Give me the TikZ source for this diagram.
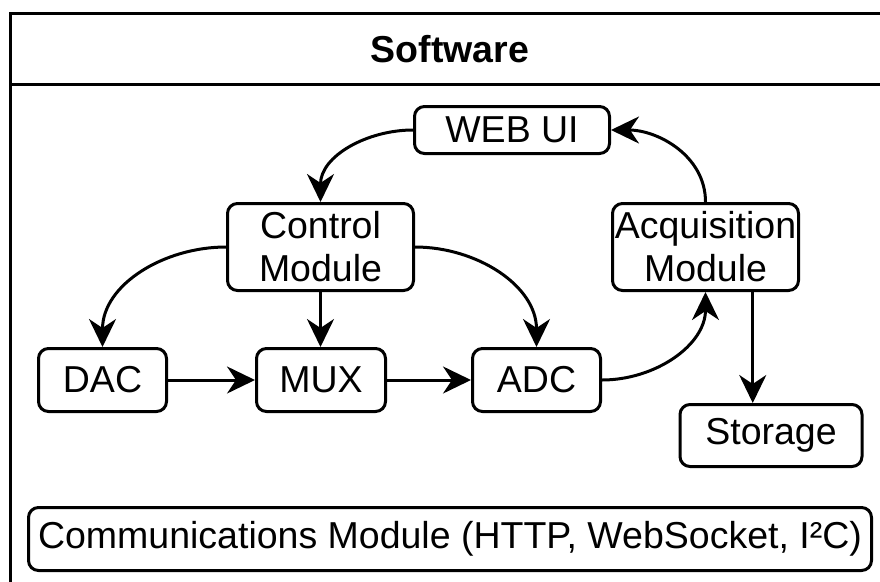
\documentclass[tikz,border=0pt]{standalone}
\usepackage{fontspec}
\setmainfont{Liberation Sans}
\usetikzlibrary{arrows.meta,calc}
\tikzset{
  box/.style={draw, line width=3pt, rounded corners=10pt, inner sep=0pt, align=center, font=\fontsize{37.5}{43}\selectfont},
  conn/.style={line width=3pt, -{Stealth[length=28pt,width=27pt,inset=9pt]}},
  frameline/.style={line width=3pt},
}
\begin{document}
\begin{tikzpicture}[x=1pt,y=1pt]
\useasboundingbox (0,0) rectangle (880,-581);
\clip (0,0) rectangle (880,-581);
\draw[frameline] (890,-13) -- (10,-13) -- (10,-600);
\draw[frameline] (10,-84) -- (890,-84);
\node[font=\fontsize{37.5}{43}\selectfont\bfseries] (title) at (450,-49) {Software};

\node[box, minimum width=195pt, minimum height=47pt] (web) at (512,-130) {WEB UI};
\node[box, minimum width=186pt, minimum height=87pt] (ctrl) at (320.5,-247) {Control\\Module};
\node[box, minimum width=186pt, minimum height=87pt] (acq) at (705.5,-247) {Acquisition\\Module};
\node[box, minimum width=128pt, minimum height=63pt] (dac) at (102.5,-380) {DAC};
\node[box, minimum width=129pt, minimum height=63pt] (mux) at (321,-380) {MUX};
\node[box, minimum width=128pt, minimum height=63pt] (adc) at (536.5,-380) {ADC};
\node[box, minimum width=182pt, minimum height=62pt] (stor) at (771,-435.5) {Storage};
\node[box, minimum width=843pt, minimum height=63pt] (comm) at (450,-539) {Communications Module (HTTP, WebSocket, I²C)};

\draw[conn] (web.west) to[out=180,in=90] (ctrl.north);
\draw[conn] (acq.north) to[out=90,in=0] (web.east);
\draw[conn] (ctrl.west) to[out=180,in=90] (dac.north);
\draw[conn] (ctrl.south) -- (ctrl.south |- mux.north);
\draw[conn] (ctrl.east) to[out=0,in=90] (adc.north);
\draw[conn] (dac) -- (mux);
\draw[conn] (mux) -- (adc);
\draw[conn] (adc.east) to[out=0,in=-90] (acq.south);
\coordinate (s) at ($(acq.south west)!0.75!(acq.south east)$);
\draw[conn] (s) -- (s |- stor.north);
\end{tikzpicture}
\end{document}
